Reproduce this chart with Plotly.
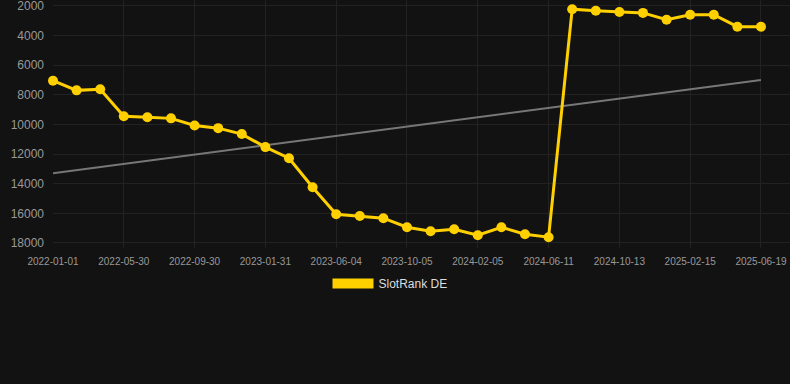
import plotly.graph_objects as go

dates = [
    "2022-01-01", "2022-02-19", "2022-04-10",
    "2022-05-30", "2022-07-10", "2022-08-20",
    "2022-09-30", "2022-11-10", "2022-12-21",
    "2023-01-31", "2023-03-13", "2023-04-24",
    "2023-06-04", "2023-07-15", "2023-08-25",
    "2023-10-05", "2023-11-15", "2023-12-26",
    "2024-02-05", "2024-03-18", "2024-04-30",
    "2024-06-11", "2024-07-22", "2024-09-01",
    "2024-10-13", "2024-11-23", "2025-01-04",
    "2025-02-15", "2025-03-28", "2025-05-09",
    "2025-06-19",
]
rank_de = [
    7050, 7700, 7630, 9450, 9520, 9590, 10070, 10250, 10650, 11530,
    12280, 14240, 16060, 16180, 16330, 16940, 17210, 17070, 17480, 16940,
    17410, 17610, 2220, 2320, 2410, 2470, 2930, 2590, 2590, 3400,
    3400,
]
trend_x = [dates[0], dates[-1]]
trend_y = [13300, 7000]
tick_labels = dates[::3]
y_ticks = [2000, 4000, 6000, 8000, 10000, 12000, 14000, 16000, 18000]

YELLOW = "#FFD000"
BG = "#121212"

fig = go.Figure()
fig.add_trace(go.Scatter(
    x=trend_x, y=trend_y, mode="lines",
    line=dict(color="#777777", width=2),
    showlegend=False, hoverinfo="skip", cliponaxis=False,
))
fig.add_trace(go.Scatter(
    x=dates, y=rank_de, mode="lines+markers",
    line=dict(color=YELLOW, width=3),
    marker=dict(color=YELLOW, size=10),
    showlegend=False, cliponaxis=False,
))
fig.add_trace(go.Scatter(
    x=[None], y=[None], mode="lines",
    line=dict(color=YELLOW, width=11),
    name="SlotRank DE", showlegend=True,
))

fig.update_layout(
    width=790, height=384,
    paper_bgcolor=BG, plot_bgcolor=BG,
    margin=dict(l=53, r=0, t=0, b=136),
    font=dict(family="Liberation Sans, Arial, sans-serif", color="#999999"),
    legend=dict(
        orientation="h", x=(390 - 53) / 737, xanchor="center",
        y=-35.5 / 248, yanchor="middle",
        font=dict(size=12, color="#dddddd"), itemwidth=41,
        bgcolor="rgba(0,0,0,0)",
    ),
    xaxis=dict(
        type="category", categoryorder="array", categoryarray=dates,
        range=[0, 31.23],
        tickmode="array", tickvals=tick_labels, ticktext=tick_labels,
        tickfont=dict(size=10, color="#999999"),
        ticklabelstandoff=6,
        showgrid=True, gridcolor="#222222", gridwidth=1,
        zeroline=False, showline=False, ticks="",
    ),
    yaxis=dict(
        range=[18340, 1600],
        tickmode="array", tickvals=y_ticks, ticktext=[str(v) for v in y_ticks],
        tickfont=dict(size=12, color="#999999"),
        ticklabelstandoff=8, ticklabeloverflow="allow",
        showgrid=True, gridcolor="#222222", gridwidth=1,
        zeroline=False, showline=False, ticks="",
    ),
)

fig.write_html(
    "out.html",
    config={"displayModeBar": False},
    post_script="document.body.style.margin='0';document.body.style.background='#121212';",
)
